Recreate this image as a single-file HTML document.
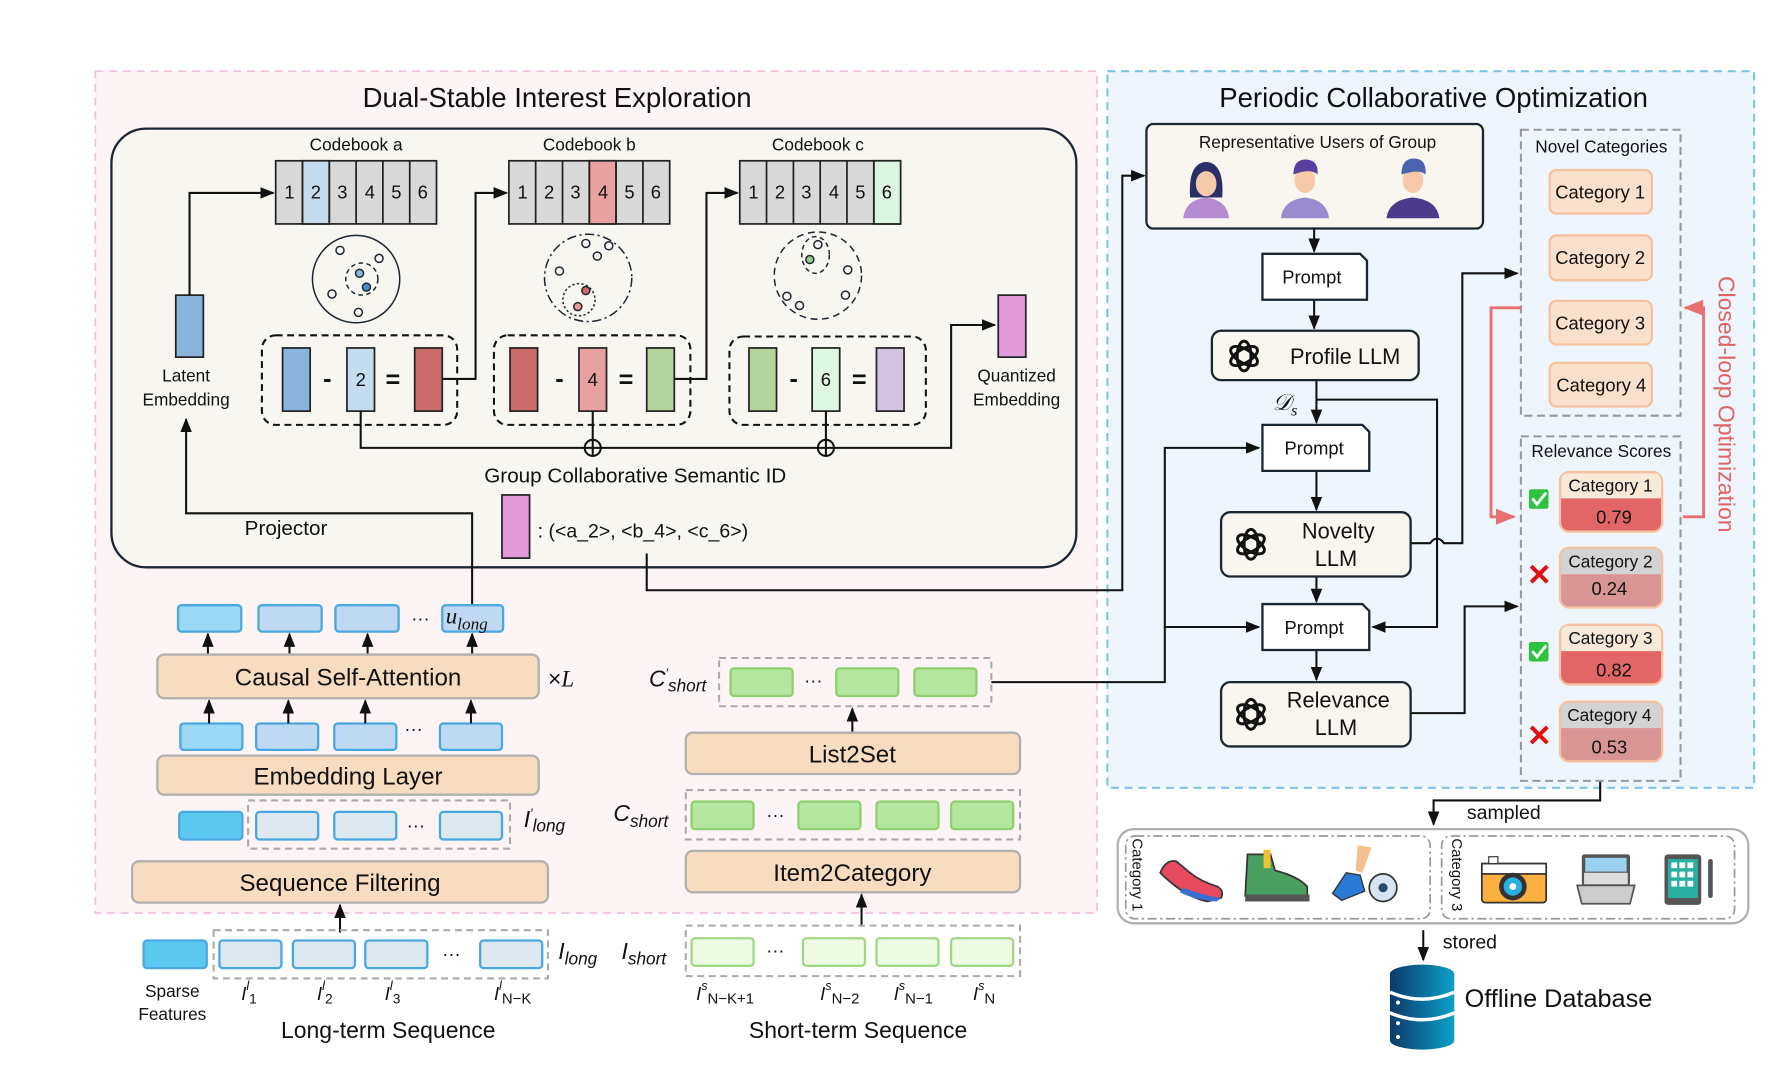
<!DOCTYPE html>
<html><head><meta charset="utf-8"><style>
html,body{margin:0;padding:0;background:#fff;}
svg{display:block;}
text{font-family:"Liberation Sans",sans-serif;fill:#111;}
.m{font-family:"Liberation Serif",serif;font-style:italic;}
</style></head><body>
<svg width="1792" height="1068" viewBox="0 0 1560 930" preserveAspectRatio="none" xmlns="http://www.w3.org/2000/svg">
<defs>
<marker id="a" viewBox="0 0 10 10" refX="9" refY="5" markerWidth="7" markerHeight="7" orient="auto-start-reverse"><path d="M0,1 L10,5 L0,9 z" fill="#111"/></marker>
<marker id="ar" viewBox="0 0 10 10" refX="9" refY="5" markerWidth="7" markerHeight="7" orient="auto-start-reverse"><path d="M0,1 L10,5 L0,9 z" fill="#e87070"/></marker>
<linearGradient id="db" x1="0" x2="1"><stop offset="0" stop-color="#0b3a6a"/><stop offset="1" stop-color="#0aa0c8"/></linearGradient>
<g id="gpt" fill="none" stroke="#111" stroke-width="2.6">
<ellipse rx="6" ry="13" transform="rotate(0)" cx="0" cy="0"/>
<ellipse rx="6" ry="13" transform="rotate(60)"/>
<ellipse rx="6" ry="13" transform="rotate(120)"/>
</g>
</defs>

<!-- panels -->
<rect x="83" y="62" width="872" height="733" fill="#fdf4f5" stroke="#f0bfe0" stroke-width="1.5" stroke-dasharray="7 5"/>
<rect x="964" y="62" width="563" height="624" fill="#eef5fc" stroke="#7cc4e8" stroke-width="1.8" stroke-dasharray="7 5"/>
<text x="485" y="93" font-size="24" text-anchor="middle">Dual-Stable Interest Exploration</text>
<text x="1248" y="93" font-size="24" text-anchor="middle">Periodic Collaborative Optimization</text>

<!-- inner box -->
<rect x="97" y="112" width="840" height="382" rx="30" fill="#f8f6f0" stroke="#1a2633" stroke-width="2"/>

<!-- codebooks -->
<g font-size="15" text-anchor="middle">
<text x="310" y="131">Codebook a</text><text x="513" y="131">Codebook b</text><text x="712" y="131">Codebook c</text>
</g>
<g stroke="#222" stroke-width="1.5" font-size="15" text-anchor="middle">
<g transform="translate(240,140)">
<rect width="140" height="55" fill="#d9d9d9"/><rect x="23.3" width="23.3" height="55" fill="#c5dcef"/>
<path d="M23.3 0v55M46.7 0v55M70 0v55M93.3 0v55M116.7 0v55"/>
</g>
<g transform="translate(443,140)">
<rect width="140" height="55" fill="#d9d9d9"/><rect x="70" width="23.3" height="55" fill="#e8a0a0"/>
<path d="M23.3 0v55M46.7 0v55M70 0v55M93.3 0v55M116.7 0v55"/>
</g>
<g transform="translate(644,140)">
<rect width="140" height="55" fill="#d9d9d9"/><rect x="116.7" width="23.3" height="55" fill="#dcf5e0"/>
<path d="M23.3 0v55M46.7 0v55M70 0v55M93.3 0v55M116.7 0v55"/>
</g>
</g>
<g font-size="16" text-anchor="middle" stroke="none">
<text x="252" y="173">1</text><text x="275" y="173">2</text><text x="298" y="173">3</text><text x="322" y="173">4</text><text x="345" y="173">5</text><text x="368" y="173">6</text>
<text x="455" y="173">1</text><text x="478" y="173">2</text><text x="501" y="173">3</text><text x="525" y="173">4</text><text x="548" y="173">5</text><text x="571" y="173">6</text>
<text x="656" y="173">1</text><text x="679" y="173">2</text><text x="702" y="173">3</text><text x="726" y="173">4</text><text x="749" y="173">5</text><text x="772" y="173">6</text>
</g>

<!-- circles -->
<g fill="none" stroke="#1a2633" stroke-width="1.3">
<circle cx="310" cy="243" r="38"/>
<circle cx="315" cy="243" r="14" stroke-dasharray="4 3"/>
<circle cx="296" cy="218" r="3.5"/><circle cx="330" cy="225" r="3.5"/><circle cx="289" cy="256" r="3.5"/><circle cx="312" cy="272" r="3.5"/>
<circle cx="313" cy="238" r="3.5" fill="#8ab4dc"/><circle cx="319" cy="250" r="3.5" fill="#4a88c8"/>
<circle cx="512" cy="242" r="38" stroke-dasharray="8 3 2 3"/>
<circle cx="504" cy="261" r="14" stroke-dasharray="2 2"/>
<circle cx="510" cy="212" r="3.5"/><circle cx="520" cy="223" r="3.5"/><circle cx="530" cy="214" r="3.5"/><circle cx="487" cy="236" r="3.5"/>
<circle cx="510" cy="253" r="3.5" fill="#d46a6a"/><circle cx="503" cy="267" r="3.5" fill="#e89a9a"/>
<circle cx="712" cy="240" r="38" stroke-dasharray="6 4"/>
<ellipse cx="710" cy="222" rx="12" ry="16" stroke-dasharray="4 3"/>
<circle cx="712" cy="213" r="3.5"/><circle cx="705" cy="226" r="3.5" fill="#9cc88a"/><circle cx="738" cy="235" r="3.5"/><circle cx="685" cy="258" r="3.5"/><circle cx="696" cy="266" r="3.5"/><circle cx="736" cy="257" r="3.5"/>
</g>

<!-- latent & quantized -->
<rect x="153" y="257" width="24" height="54" fill="#8ab4dc" stroke="#222" stroke-width="1.5"/>
<text x="162" y="332" font-size="15" text-anchor="middle">Latent</text>
<text x="162" y="353" font-size="15" text-anchor="middle">Embedding</text>
<rect x="869" y="257" width="24" height="54" fill="#e29ad9" stroke="#222" stroke-width="1.5"/>
<text x="885" y="332" font-size="15" text-anchor="middle">Quantized</text>
<text x="885" y="353" font-size="15" text-anchor="middle">Embedding</text>

<!-- dashed groups -->
<g fill="none" stroke="#111" stroke-width="1.8" stroke-dasharray="6 4">
<rect x="228" y="292" width="170" height="78" rx="12"/>
<rect x="430" y="292" width="171" height="78" rx="12"/>
<rect x="635" y="293" width="171" height="77" rx="12"/>
</g>
<g stroke="#222" stroke-width="1.5">
<rect x="246" y="303" width="24" height="55" fill="#8ab4dc"/>
<rect x="302" y="303" width="24" height="55" fill="#c5dcef"/>
<rect x="361" y="303" width="24" height="55" fill="#cc6b6b"/>
<rect x="444" y="303" width="24" height="55" fill="#cc6b6b"/>
<rect x="504" y="303" width="24" height="55" fill="#e8a0a0"/>
<rect x="563" y="303" width="24" height="55" fill="#b5d39d"/>
<rect x="652" y="303" width="24" height="55" fill="#b5d39d"/>
<rect x="707" y="303" width="24" height="55" fill="#ddf7e2"/>
<rect x="763" y="303" width="24" height="55" fill="#d3c3e0"/>
</g>
<g font-size="16" text-anchor="middle">
<text x="314" y="336">2</text><text x="516" y="336">4</text><text x="719" y="336">6</text>
<text x="285" y="337" font-size="22" font-weight="bold">-</text><text x="342" y="338" font-size="22" font-weight="bold">=</text>
<text x="487" y="337" font-size="22" font-weight="bold">-</text><text x="545" y="338" font-size="22" font-weight="bold">=</text>
<text x="691" y="337" font-size="22" font-weight="bold">-</text><text x="748" y="338" font-size="22" font-weight="bold">=</text>
</g>

<!-- connectors top -->
<g fill="none" stroke="#111" stroke-width="1.8">
<path d="M165 257V168H238" marker-end="url(#a)"/>
<path d="M385 330H414V168H441" marker-end="url(#a)"/>
<path d="M587 330H615V168H642" marker-end="url(#a)"/>
<path d="M314 358V390H828V283H866" marker-end="url(#a)"/>
<path d="M516 358V383M719 358V383"/>
<circle cx="516" cy="390" r="7" fill="#f8f6f0"/><path d="M509 390H523M516 383V397"/>
<circle cx="719" cy="390" r="7" fill="#f8f6f0"/><path d="M712 390H726M719 383V397"/>
<path d="M411 527V447H162V365" marker-end="url(#a)"/>
<path d="M563 482V514H977V153H996" marker-end="url(#a)"/>
</g>
<text x="553" y="420" font-size="18" text-anchor="middle">Group Collaborative Semantic ID</text>
<rect x="437" y="431" width="24" height="55" fill="#e29ad9" stroke="#222" stroke-width="1.5"/>
<text x="468" y="468" font-size="17">:  (&lt;a_2&gt;, &lt;b_4&gt;, &lt;c_6&gt;)</text>
<text x="213" y="466" font-size="18">Projector</text>

<!-- lower left stack -->
<g stroke="#4aa8e0" stroke-width="2">
<rect x="155" y="527" width="55" height="23" rx="3" fill="#9ad8f5"/>
<rect x="225" y="527" width="55" height="23" rx="3" fill="#c0d9f2"/>
<rect x="292" y="527" width="55" height="23" rx="3" fill="#c0d9f2"/>
<rect x="385" y="527" width="53" height="23" rx="3" fill="#c0d9f2"/>
<rect x="157" y="630" width="54" height="23" rx="3" fill="#9ad8f5"/>
<rect x="223" y="630" width="54" height="23" rx="3" fill="#c0d9f2"/>
<rect x="291" y="630" width="54" height="23" rx="3" fill="#c0d9f2"/>
<rect x="383" y="630" width="54" height="23" rx="3" fill="#c0d9f2"/>
</g>
<text x="366" y="544" font-size="16" text-anchor="middle">···</text>
<text x="360" y="640" font-size="16" text-anchor="middle">···</text>
<text x="388" y="543" font-size="20" class="m">u<tspan font-size="15" dy="5">long</tspan></text>
<g fill="none" stroke="#111" stroke-width="1.8" marker-end="url(#a)">
<path d="M181 570V552"/><path d="M252 570V552"/><path d="M320 570V552"/><path d="M411 570V552"/>
<path d="M182 630V610"/><path d="M251 630V610"/><path d="M318 630V610"/><path d="M410 630V610"/>
<path d="M296 812V788"/>
<path d="M742 637V617"/>
<path d="M750 807V779"/>
</g>
<g fill="#f8dcc0" stroke="#b0b0b0" stroke-width="2">
<rect x="137" y="570" width="332" height="38" rx="6"/>
<rect x="137" y="658" width="332" height="34" rx="6"/>
<rect x="115" y="750" width="362" height="36" rx="6"/>
<rect x="597" y="638" width="291" height="36" rx="6"/>
<rect x="597" y="741" width="291" height="36" rx="6"/>
</g>
<g font-size="21" text-anchor="middle">
<text x="303" y="597">Causal Self-Attention</text>
<text x="303" y="683">Embedding Layer</text>
<text x="296" y="776">Sequence Filtering</text>
<text x="742" y="664">List2Set</text>
<text x="742" y="767">Item2Category</text>
</g>
<text x="477" y="598" font-size="20">×<tspan class="m">L</tspan></text>

<g fill="none" stroke="#aaa" stroke-width="1.8" stroke-dasharray="6 4">
<rect x="216" y="697" width="228" height="42"/>
<rect x="186" y="810" width="291" height="42"/>
<rect x="626" y="573" width="237" height="42"/>
<rect x="597" y="688" width="291" height="43"/>
<rect x="597" y="806" width="291" height="44"/>
</g>
<g stroke="#4aa8e0" stroke-width="2">
<rect x="156" y="707" width="55" height="24" rx="3" fill="#5bc8f0"/>
<rect x="223" y="707" width="54" height="24" rx="3" fill="#dde8f0"/>
<rect x="291" y="707" width="54" height="24" rx="3" fill="#dde8f0"/>
<rect x="383" y="707" width="54" height="24" rx="3" fill="#dde8f0"/>
<rect x="125" y="819" width="55" height="24" rx="3" fill="#5bc8f0"/>
<rect x="191" y="819" width="54" height="24" rx="3" fill="#dde8f0"/>
<rect x="255" y="819" width="54" height="24" rx="3" fill="#dde8f0"/>
<rect x="318" y="819" width="54" height="24" rx="3" fill="#dde8f0"/>
<rect x="418" y="819" width="54" height="24" rx="3" fill="#dde8f0"/>
</g>
<g stroke="#90d070" stroke-width="2" fill="#b5e6a0">
<rect x="636" y="582" width="54" height="24" rx="3"/>
<rect x="728" y="582" width="54" height="24" rx="3"/>
<rect x="796" y="582" width="54" height="24" rx="3"/>
<rect x="602" y="698" width="54" height="24" rx="3"/>
<rect x="695" y="698" width="54" height="24" rx="3"/>
<rect x="763" y="698" width="54" height="24" rx="3"/>
<rect x="828" y="698" width="54" height="24" rx="3"/>
</g>
<g stroke="#a0d880" stroke-width="2" fill="#eefbe5">
<rect x="602" y="817" width="54" height="24" rx="3"/>
<rect x="699" y="817" width="54" height="24" rx="3"/>
<rect x="763" y="817" width="54" height="24" rx="3"/>
<rect x="828" y="817" width="54" height="24" rx="3"/>
</g>
<g font-size="16" text-anchor="middle">
<text x="362" y="724">···</text><text x="393" y="836">···</text>
<text x="708" y="598">···</text><text x="675" y="715">···</text><text x="675" y="833">···</text>
</g>
<g font-size="20" class="m">
<text x="456" y="720">I<tspan font-size="11" dy="-8">′</tspan><tspan font-size="15" dy="12">long</tspan></text>
<text x="486" y="835">I<tspan font-size="15" dy="5">long</tspan></text>
<text x="541" y="835">I<tspan font-size="15" dy="5">short</tspan></text>
<text x="534" y="715">C<tspan font-size="15" dy="5">short</tspan></text>
<text x="565" y="598">C<tspan font-size="11" dy="-8">′</tspan><tspan font-size="15" dy="12">short</tspan></text>
</g>
<g font-size="16" class="m">
<text x="210" y="871">I<tspan font-size="11" dy="-9">l</tspan><tspan font-size="12" dy="12" font-style="normal">1</tspan></text>
<text x="276" y="871">I<tspan font-size="11" dy="-9">l</tspan><tspan font-size="12" dy="12" font-style="normal">2</tspan></text>
<text x="335" y="871">I<tspan font-size="11" dy="-9">l</tspan><tspan font-size="12" dy="12" font-style="normal">3</tspan></text>
<text x="430" y="871">I<tspan font-size="11" dy="-9">l</tspan><tspan font-size="13" dy="12" font-style="normal">N−K</tspan></text>
<text x="606" y="871">I<tspan font-size="11" dy="-9">s</tspan><tspan font-size="13" dy="12" font-style="normal">N−K+1</tspan></text>
<text x="714" y="871">I<tspan font-size="11" dy="-9">s</tspan><tspan font-size="13" dy="12" font-style="normal">N−2</tspan></text>
<text x="778" y="871">I<tspan font-size="11" dy="-9">s</tspan><tspan font-size="13" dy="12" font-style="normal">N−1</tspan></text>
<text x="847" y="871">I<tspan font-size="11" dy="-9">s</tspan><tspan font-size="13" dy="12" font-style="normal">N</tspan></text>
</g>
<text x="150" y="868" font-size="15" text-anchor="middle">Sparse</text>
<text x="150" y="888" font-size="15" text-anchor="middle">Features</text>
<text x="338" y="904" font-size="20" text-anchor="middle">Long-term Sequence</text>
<text x="747" y="904" font-size="20" text-anchor="middle">Short-term Sequence</text>

<!-- right panel -->
<rect x="998" y="108" width="293" height="91" rx="6" fill="#f8f6ef" stroke="#1a2633" stroke-width="2"/>
<text x="1147" y="129" font-size="15" text-anchor="middle">Representative Users  of Group</text>
<g>
<path d="M1030 190q2-16 20-18q18 2 20 18z" fill="#b48ad0"/>
<path d="M1036 172q-2-30 14-31q16 1 14 31z" fill="#2a2f6a"/>
<ellipse cx="1050" cy="160" rx="9" ry="11" fill="#f6c9a8"/>
<path d="M1115 190q2-16 21-18q19 2 21 18z" fill="#9a8ad0"/>
<ellipse cx="1136" cy="157" rx="9" ry="11" fill="#f6c9a8"/>
<path d="M1126 152q0-14 12-13q10 1 9 13q-6-6-21 0z" fill="#5a3fa0"/>
<path d="M1207 190q2-16 23-18q21 2 23 18z" fill="#4a3a8a"/>
<ellipse cx="1230" cy="157" rx="9" ry="11" fill="#f6c9a8"/>
<path d="M1220 152q0-14 11-14q11 0 10 14q-5-5-21 0z" fill="#4a64b0"/>
</g>

<g fill="none" stroke="#111" stroke-width="1.8">
<path d="M1144 199V219" marker-end="url(#a)"/>
<path d="M1144 261V286" marker-end="url(#a)"/>
<path d="M1146 331V368" marker-end="url(#a)"/>
<path d="M1146 348H1251V546H1195" marker-end="url(#a)"/>
<path d="M1146 410V444" marker-end="url(#a)"/>
<path d="M1146 502V524" marker-end="url(#a)"/>
<path d="M1146 566V592" marker-end="url(#a)"/>
<path d="M1228 473H1245q6-8 12 0H1273V238H1321" marker-end="url(#a)"/>
<path d="M1228 621H1275V528H1321" marker-end="url(#a)"/>
<path d="M863 594H1014V390H1096" marker-end="url(#a)"/>
<path d="M1014 546H1096" marker-end="url(#a)"/>
<path d="M1393 680V697H1248V718" marker-end="url(#a)"/>
<path d="M1239 810V836" marker-end="url(#a)"/>
</g>
<g fill="#fff" stroke="#1a2633" stroke-width="2">
<path d="M1099 221H1184L1190 227V261H1099Z"/>
<path d="M1099 370H1186L1192 376V410H1099Z"/>
<path d="M1099 526H1186L1192 532V566H1099Z"/>
</g>
<g font-size="16" text-anchor="middle"><text x="1142" y="247">Prompt</text><text x="1144" y="396">Prompt</text><text x="1144" y="552">Prompt</text></g>
<g fill="#f8f6ef" stroke="#1a2633" stroke-width="2">
<rect x="1055" y="288" width="180" height="43" rx="8"/>
<rect x="1063" y="446" width="165" height="56" rx="8"/>
<rect x="1063" y="594" width="165" height="56" rx="8"/>
</g>
<use href="#gpt" x="1083" y="310"/>
<use href="#gpt" x="1089" y="474"/>
<use href="#gpt" x="1089" y="622"/>
<g font-size="19" text-anchor="middle">
<text x="1171" y="317">Profile LLM</text>
<text x="1165" y="469">Novelty</text><text x="1163" y="493">LLM</text>
<text x="1165" y="616">Relevance</text><text x="1163" y="640">LLM</text>
</g>
<text x="1108" y="357" font-size="20" class="m">𝒟<tspan font-size="14" dy="5">s</tspan></text>

<!-- novel categories -->
<rect x="1324" y="113" width="139" height="249" fill="none" stroke="#999" stroke-width="1.8" stroke-dasharray="7 4"/>
<text x="1394" y="133" font-size="15" text-anchor="middle">Novel Categories</text>
<g fill="#f8e0cc" stroke="#f5c2a0" stroke-width="2">
<rect x="1349" y="148" width="89" height="38" rx="6"/>
<rect x="1349" y="205" width="89" height="39" rx="6"/>
<rect x="1349" y="262" width="89" height="38" rx="6"/>
<rect x="1349" y="316" width="89" height="38" rx="6"/>
</g>
<g font-size="16" text-anchor="middle">
<text x="1393" y="173">Category 1</text><text x="1393" y="230">Category 2</text><text x="1393" y="287">Category 3</text><text x="1394" y="341">Category 4</text>
</g>
<rect x="1324" y="380" width="139" height="300" fill="none" stroke="#999" stroke-width="1.8" stroke-dasharray="7 4"/>
<text x="1394" y="398" font-size="15" text-anchor="middle">Relevance Scores</text>
<g stroke="#f5c2a0" stroke-width="2">
<rect x="1358" y="411" width="89" height="52" rx="8" fill="#e26666"/><path d="M1359 434V419q0-7 7-7H1439q7 0 7 7V434Z" fill="#f8e8d8" stroke="none"/>
<rect x="1358" y="477" width="89" height="52" rx="8" fill="#d99595"/><path d="M1359 500V485q0-7 7-7H1439q7 0 7 7V500Z" fill="#d3d3d3" stroke="none"/>
<rect x="1358" y="544" width="89" height="52" rx="8" fill="#e26666"/><path d="M1359 567V552q0-7 7-7H1439q7 0 7 7V567Z" fill="#f8e8d8" stroke="none"/>
<rect x="1358" y="611" width="89" height="52" rx="8" fill="#d99595"/><path d="M1359 634V619q0-7 7-7H1439q7 0 7 7V634Z" fill="#d3d3d3" stroke="none"/>
</g>
<g font-size="15" text-anchor="middle">
<text x="1402" y="428">Category 1</text><text x="1405" y="456" font-size="16">0.79</text>
<text x="1402" y="494">Category 2</text><text x="1401" y="518" font-size="16">0.24</text>
<text x="1402" y="561">Category 3</text><text x="1405" y="589" font-size="16">0.82</text>
<text x="1401" y="628">Category 4</text><text x="1401" y="656" font-size="16">0.53</text>
</g>
<rect x="1331" y="426" width="17" height="17" rx="2" fill="#2ec23e"/><path d="M1334 434l4 5l8-10" fill="none" stroke="#fff" stroke-width="2.5"/>
<rect x="1331" y="559" width="17" height="17" rx="2" fill="#2ec23e"/><path d="M1334 567l4 5l8-10" fill="none" stroke="#fff" stroke-width="2.5"/>
<path d="M1333 493l14 14M1347 493l-14 14M1333 633l14 14M1347 633l-14 14" stroke="#e01010" stroke-width="3.5"/>
<g fill="none" stroke="#e87070" stroke-width="2.5">
<path d="M1324 268H1298V450H1318" marker-end="url(#ar)"/>
<path d="M1465 450H1483V268H1467" marker-end="url(#ar)"/>
</g>
<text transform="translate(1496,352) rotate(90)" font-size="20" text-anchor="middle" style="fill:#e06464">Closed-loop Optimization</text>

<!-- bottom right -->
<text x="1277" y="713" font-size="17">sampled</text>
<text x="1256" y="826" font-size="17">stored</text>
<rect x="973" y="722" width="549" height="82" rx="14" fill="#fff" stroke="#b0b0b0" stroke-width="2"/>
<g fill="none" stroke="#999" stroke-width="1.5" stroke-dasharray="8 3 2 3">
<rect x="980" y="728" width="265" height="72" rx="8"/>
<rect x="1255" y="728" width="255" height="72" rx="8"/>
</g>
<text transform="translate(986,730) rotate(90)" font-size="13">Category 1</text>
<text transform="translate(1264,730) rotate(90)" font-size="13">Category 3</text>
<path d="M1010 760q5-12 14-10l12 10q10 8 24 12q6 4 3 10l-12 3q-20-4-41-25z" fill="#e84a5f" stroke="#333" stroke-width="1.5"/>
<path d="M1030 773q15 6 33 9l-4 3q-18-1-32-8z" fill="#3a6fd0"/>
<path d="M1086 744h20l4 14q20 5 28 14v8h-54z" fill="#4aa060" stroke="#333" stroke-width="1.5"/>
<rect x="1084" y="779" width="56" height="6" fill="#555"/>
<rect x="1100" y="740" width="6" height="16" fill="#f0c030"/>
<path d="M1182 736l12 2l-8 22l-6-2z" fill="#f5c090"/>
<path d="M1172 760l12 2l4 14l-20 8l-8-6z" fill="#2a7ad8" stroke="#333" stroke-width="1.2"/>
<circle cx="1204" cy="773" r="12" fill="#d8e4f0" stroke="#333" stroke-width="1.5"/>
<circle cx="1204" cy="773" r="4" fill="#2a4a6a"/>
<rect x="1290" y="752" width="56" height="34" rx="3" fill="#fbb040" stroke="#333" stroke-width="1.5"/>
<rect x="1290" y="752" width="56" height="9" fill="#fff" stroke="#333" stroke-width="1.5"/>
<rect x="1296" y="746" width="8" height="6" fill="#fff" stroke="#333"/>
<circle cx="1317" cy="772" r="12" fill="#333"/><circle cx="1317" cy="772" r="8" fill="#2ab0e0"/><circle cx="1317" cy="772" r="3" fill="#fff"/>
<rect x="1377" y="744" width="42" height="27" rx="2" fill="#555"/><rect x="1380" y="747" width="36" height="12" fill="#9ad0f0"/>
<rect x="1379" y="760" width="38" height="10" fill="#ddd"/>
<path d="M1373 771h50l-4 16h-42z" fill="#ccc" stroke="#555" stroke-width="1.5"/>
<rect x="1449" y="744" width="32" height="44" rx="3" fill="#555"/><rect x="1452" y="748" width="26" height="34" fill="#2ab0a0"/>
<g fill="#fff"><rect x="1455" y="751" width="5" height="5"/><rect x="1462" y="751" width="5" height="5"/><rect x="1469" y="751" width="5" height="5"/><rect x="1455" y="759" width="5" height="5"/><rect x="1462" y="759" width="5" height="5"/><rect x="1469" y="759" width="5" height="5"/><rect x="1455" y="767" width="5" height="5"/><rect x="1462" y="767" width="5" height="5"/><rect x="1469" y="767" width="5" height="5"/></g>
<rect x="1487" y="748" width="4" height="34" rx="2" fill="#555"/>
<g>
<rect x="1210" y="848" width="56" height="58" fill="url(#db)"/>
<ellipse cx="1238" cy="906" rx="28" ry="8" fill="url(#db)"/>
<ellipse cx="1238" cy="848" rx="28" ry="8" fill="url(#db)"/>
<path d="M1210 864q28 12 56 0M1210 882q28 12 56 0" stroke="#fff" stroke-width="3" fill="none"/>
<circle cx="1217" cy="873" r="1.8" fill="#fff"/><circle cx="1217" cy="891" r="1.8" fill="#fff"/><circle cx="1217" cy="903" r="1.8" fill="#fff"/>
</g>
<text x="1275" y="877" font-size="22">Offline Database</text>
</svg>
</body></html>
